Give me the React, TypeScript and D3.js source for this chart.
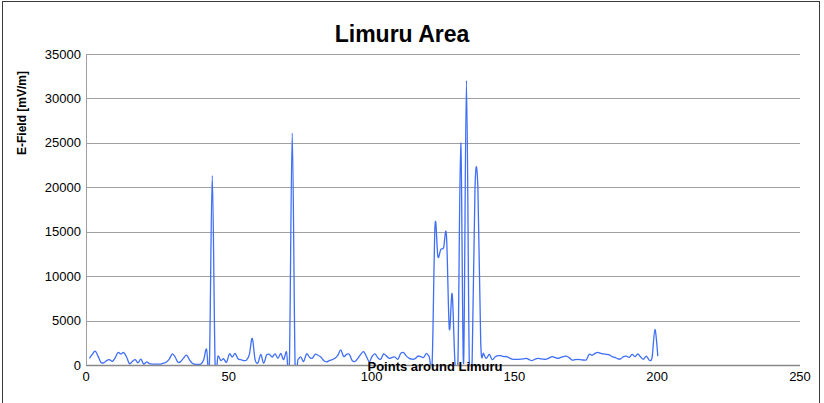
import { useEffect, useRef } from 'react';
import { select, scaleLinear, line, curveCardinal, range } from 'd3';

// x runs 1..200, one value per point
const fieldValues: number[] = [
  750, 1200, 1550, 1000, 300, 250, 500, 600, 400, 800,
  1400, 1250, 1400, 900, 150, 400, 600, 250, 650, 100,
  350, 150, 100, 100, 100, 100, 200, 350, 700, 1250,
  900, 300, 400, 800, 1100, 600, 200, 80, 80, 100,
  600, 1800, 100, 21300, 100, 1000, 500, 700, 300, 1250,
  900, 1300, 700, 600, 500, 550, 1200, 3000, 600, 250,
  1200, 200, 1100, 1200, 900, 1250, 750, 1300, 600, 1500,
  100, 26100, 100, 600, 900, 400, 1250, 900, 750, 1200,
  1100, 900, 500, 350, 500, 600, 750, 1100, 1700, 950,
  1200, 1200, 500, 400, 750, 1200, 1500, 950, 350, 1000,
  1250, 800, 650, 1250, 1000, 750, 850, 900, 650, 1300,
  1400, 1000, 750, 650, 700, 1000, 950, 850, 1300, 900,
  300, 15700, 12200, 13000, 13200, 14600, 4100, 8000, 200, 100,
  25000, 200, 32000, 200, 600, 20000, 20000, 2500, 1300, 750,
  1200, 600, 900, 1050, 1050, 950, 950, 800, 650, 640,
  640, 650, 700, 750, 600, 500, 650, 750, 700, 650,
  650, 800, 950, 850, 750, 850, 950, 1000, 800, 560,
  600, 640, 600, 560, 600, 1200, 1100, 1300, 1430, 1300,
  1240, 1200, 1130, 950, 850, 700, 700, 950, 1000, 860,
  1200, 950, 1240, 900, 650, 1000, 560, 860, 4000, 1000,
];
const pointIds = range(1, fieldValues.length + 1);

const yTicks = [0, 5000, 10000, 15000, 20000, 25000, 30000, 35000];
const xTicks = [0, 50, 100, 150, 200, 250];

const W = 824;
const H = 403;
const plot = { left: 86, right: 800, top: 54, bottom: 365 };

const App = () => {
  const svgRef = useRef<SVGSVGElement>(null);

  useEffect(() => {
    if (!svgRef.current) return;
    const svg = select(svgRef.current);
    svg.selectAll('*').remove();

    const x = scaleLinear().domain([0, 250]).range([plot.left, plot.right]);
    const y = scaleLinear().domain([0, 35000]).range([plot.bottom, plot.top]);

    svg
      .append('rect')
      .attr('x', 2.5)
      .attr('y', 1.5)
      .attr('width', 817)
      .attr('height', 420)
      .attr('fill', '#fff')
      .attr('stroke', '#3a3a3a');

    svg
      .append('defs')
      .append('clipPath')
      .attr('id', 'plot-clip')
      .append('rect')
      .attr('x', plot.left)
      .attr('y', plot.top - 10)
      .attr('width', plot.right - plot.left)
      .attr('height', plot.bottom - plot.top + 10);

    // gridlines
    svg
      .append('g')
      .selectAll('line')
      .data(yTicks.filter((t) => t > 0))
      .join('line')
      .attr('x1', plot.left)
      .attr('x2', plot.right)
      .attr('y1', (d) => Math.round(y(d)) + 0.5)
      .attr('y2', (d) => Math.round(y(d)) + 0.5)
      .attr('stroke', '#a0a0a0');

    svg
      .append('line')
      .attr('x1', plot.left + 0.5)
      .attr('x2', plot.left + 0.5)
      .attr('y1', plot.top)
      .attr('y2', plot.bottom)
      .attr('stroke', '#a0a0a0');

    // y labels
    svg
      .append('g')
      .selectAll('text')
      .data(yTicks)
      .join('text')
      .attr('x', 81)
      .attr('y', (d) => y(d) + 4.5)
      .attr('text-anchor', 'end')
      .attr('font-family', 'Liberation Sans, Arial, sans-serif')
      .attr('font-size', 13)
      .text((d) => d);

    // x labels
    svg
      .append('g')
      .selectAll('text')
      .data(xTicks)
      .join('text')
      .attr('x', (d) => x(d))
      .attr('y', 381)
      .attr('text-anchor', 'middle')
      .attr('font-family', 'Liberation Sans, Arial, sans-serif')
      .attr('font-size', 13)
      .text((d) => d);

    // data line
    const path = line<number>()
      .x((d) => x(d) + 0.6)
      .y((d, i) => y(fieldValues[i]))
      .curve(curveCardinal.tension(0));

    svg
      .append('path')
      .datum(pointIds)
      .attr('d', path)
      .attr('fill', 'none')
      .attr('stroke', '#3f6ef7')
      .attr('stroke-width', 1.3)
      .attr('clip-path', 'url(#plot-clip)');

    // bottom axis
    svg
      .append('line')
      .attr('x1', plot.left)
      .attr('x2', plot.right)
      .attr('y1', plot.bottom + 0.5)
      .attr('y2', plot.bottom + 0.5)
      .attr('stroke', '#8a8a8a')
      .attr('stroke-width', 1.5);

    svg
      .append('text')
      .attr('x', 435)
      .attr('y', 371)
      .attr('text-anchor', 'middle')
      .attr('font-family', 'Liberation Sans, Arial, sans-serif')
      .attr('font-size', 13)
      .attr('font-weight', 'bold')
      .text('Points around Limuru');

    svg
      .append('text')
      .attr('transform', 'translate(26,113) rotate(-90)')
      .attr('text-anchor', 'middle')
      .attr('font-family', 'Liberation Sans, Arial, sans-serif')
      .attr('font-size', 12)
      .attr('font-weight', 'bold')
      .text('E-Field [mV/m]');

    svg
      .append('text')
      .attr('x', 402)
      .attr('y', 42)
      .attr('text-anchor', 'middle')
      .attr('font-family', 'Liberation Sans, Arial, sans-serif')
      .attr('font-size', 23)
      .attr('font-weight', 'bold')
      .text('Limuru Area');
  }, []);

  return (
    <svg
      ref={svgRef}
      width={W}
      height={H}
      style={{ position: 'absolute', left: 0, top: 0, display: 'block' }}
    />
  );
};

export default App;
